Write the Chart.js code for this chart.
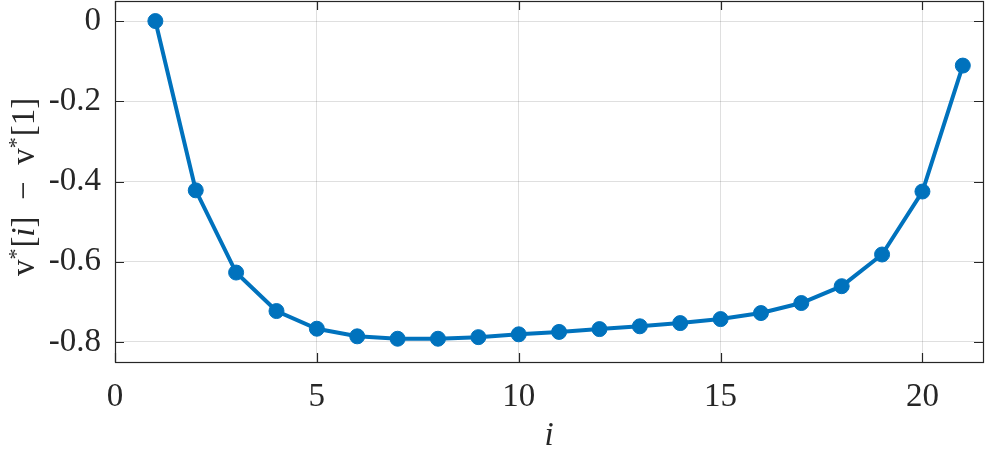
<!DOCTYPE html>
<html>
<head>
<meta charset="utf-8">
<script src="https://cdn.jsdelivr.net/npm/chart.js@4"></script>
<style>
  html, body { margin: 0; padding: 0; background: #fff; }
  #wrap { width: 987px; height: 451px; position: relative; }
</style>
</head>
<body>
<div id="wrap"><canvas id="c" width="987" height="451"></canvas></div>
<script>
// ---- data ----
const indices = [1,2,3,4,5,6,7,8,9,10,11,12,13,14,15,16,17,18,19,20,21];
const values = [0, -0.422, -0.627, -0.723, -0.767, -0.786, -0.792, -0.792, -0.788, -0.781,
                -0.775, -0.768, -0.761, -0.753, -0.743, -0.728, -0.703, -0.661, -0.582, -0.425, -0.111];
const xTicks = [0, 5, 10, 15, 20];
const yTicks = [0, -0.2, -0.4, -0.6, -0.8];
const xRange = [0, 21.5];
const yRange = [-0.85, 0.05];
const xTitle = 'i';
// y title parts: [text, style]  (style: n = normal, s = superscript, it = italic)
const yTitleParts = [['v','n'],['*','s'],['[','n'],['i','it'],[']','n'],['  \u2212  ','n'],['v','n'],['*','s'],['[1]','n']];

const FONT = '"Liberation Serif", "Times New Roman", Times, serif';
const AX = '#262626';
const BLUE = '#0072BD';

const boxPlugin = {
  id: 'box',
  beforeDatasetsDraw(chart) {
    const {ctx, chartArea: a, scales} = chart;
    ctx.save();
    ctx.strokeStyle = AX;
    ctx.lineWidth = 1.2;
    const L = 9;
    ctx.beginPath();
    xTicks.forEach(v => {
      const x = Math.round(scales.x.getPixelForValue(v)) + 0.5;
      ctx.moveTo(x, a.bottom); ctx.lineTo(x, a.bottom - L);
      ctx.moveTo(x, a.top); ctx.lineTo(x, a.top + L);
    });
    yTicks.forEach(v => {
      const y = Math.round(scales.y.getPixelForValue(v)) + 0.5;
      ctx.moveTo(a.left, y); ctx.lineTo(a.left + L, y);
      ctx.moveTo(a.right, y); ctx.lineTo(a.right - L, y);
    });
    ctx.stroke();
    ctx.strokeRect(Math.round(a.left) + 0.5, Math.round(a.top) + 0.5,
                   Math.round(a.right - a.left), Math.round(a.bottom - a.top));
    ctx.restore();
  },
  afterDraw(chart) {
    const {ctx} = chart;
    ctx.save();
    ctx.fillStyle = AX;
    ctx.textBaseline = 'alphabetic';
    const fontFor = s => s === 'it' ? `italic 33px ${FONT}` : (s === 's' ? `22px ${FONT}` : `33px ${FONT}`);
    let total = 0;
    const widths = yTitleParts.map(([t, s]) => { ctx.font = fontFor(s); const w = ctx.measureText(t).width + (s === 's' ? 1 : 0); total += w; return w; });
    const cx = 34, cy = 187;
    ctx.translate(cx, cy);
    ctx.rotate(-Math.PI / 2);
    let x = -total / 2;
    yTitleParts.forEach(([t, s], i) => {
      ctx.font = fontFor(s);
      ctx.fillText(t, x, s === 's' ? -11 : 0);
      x += widths[i];
    });
    ctx.restore();
  }
};

function build() {
  new Chart(document.getElementById('c'), {
    type: 'line',
    data: {
      datasets: [{
        data: indices.map((v, i) => ({x: v, y: values[i]})),
        borderColor: BLUE,
        backgroundColor: BLUE,
        borderWidth: 4,
        pointRadius: 7.5,
        pointBorderWidth: 1,
        pointBorderColor: BLUE,
        pointBackgroundColor: BLUE,
        tension: 0,
        fill: false
      }]
    },
    options: {
      responsive: false,
      animation: false,
      devicePixelRatio: 1,
      layout: { autoPadding: false, padding: { left: 0, top: 1, right: 4, bottom: 0 } },
      plugins: { legend: { display: false }, tooltip: { enabled: false } },
      scales: {
        x: {
          type: 'linear',
          min: xRange[0], max: xRange[1],
          afterBuildTicks: s => { s.ticks = xTicks.map(v => ({value: v})); },
          afterFit: s => { s.height = 89; s.paddingLeft = 0; s.paddingRight = 0; },
          grid: { color: 'rgba(38,38,38,0.15)', lineWidth: 1, drawTicks: false },
          border: { display: false },
          ticks: { color: AX, font: { family: FONT, size: 33 }, padding: 16, maxRotation: 0,
                   callback: v => String(v) },
          title: { display: true, text: xTitle, color: AX,
                   font: { family: FONT, size: 33, style: 'italic', lineHeight: 0.8 }, padding: { top: 0, bottom: 1 } }
        },
        y: {
          type: 'linear',
          min: yRange[0], max: yRange[1],
          afterBuildTicks: s => { s.ticks = yTicks.map(v => ({value: v})); },
          afterFit: s => { s.width = 115; s.paddingTop = 0; s.paddingBottom = 0; },
          grid: { color: 'rgba(38,38,38,0.15)', lineWidth: 1, drawTicks: false },
          border: { display: false },
          ticks: { color: AX, font: { family: FONT, size: 33 }, padding: 14,
                   callback: v => (v === 0 ? '0' : String(Math.round(v * 10) / 10)) }
        }
      }
    },
    plugins: [boxPlugin]
  });
}

Promise.all([
  document.fonts.load('33px "Liberation Serif"'),
  document.fonts.load('italic 33px "Liberation Serif"')
]).catch(() => {}).then(build);
</script>
</body>
</html>
